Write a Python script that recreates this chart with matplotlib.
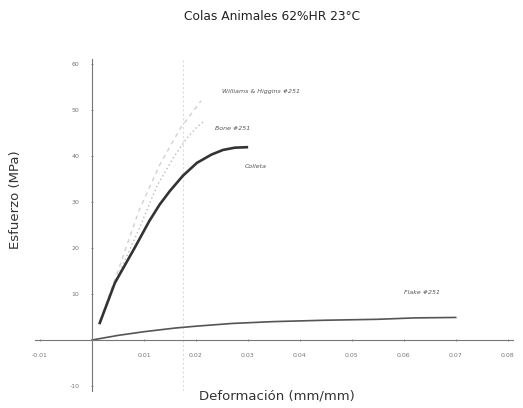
import numpy as np
import matplotlib.pyplot as plt

# Curvas esfuerzo-deformación
colleta_x = [0.0015, 0.0044, 0.0083, 0.0110, 0.0130, 0.0150, 0.0175, 0.0202, 0.0230, 0.0252, 0.0275, 0.0298]
colleta_y = [3.7, 12.4, 20.2, 25.8, 29.4, 32.4, 35.7, 38.5, 40.3, 41.3, 41.8, 41.9]

bone_x = [0.0015, 0.0050, 0.0094, 0.0125, 0.0156, 0.0180, 0.0202, 0.0215]
bone_y = [4.0, 14.0, 25.0, 33.5, 39.5, 43.5, 46.3, 47.5]

williams_x = [0.0015, 0.0050, 0.0090, 0.0130, 0.0170, 0.0210]
williams_y = [4.0, 15.0, 28.0, 38.0, 46.0, 52.0]

flake_x = [0.0, 0.005, 0.010, 0.016, 0.020, 0.027, 0.035, 0.045, 0.055, 0.062, 0.070]
flake_y = [0.0, 1.0, 1.8, 2.6, 3.0, 3.6, 4.0, 4.3, 4.5, 4.8, 4.9]

x_ticks = [-0.01, 0.01, 0.02, 0.03, 0.04, 0.05, 0.06, 0.07, 0.08]
x_labels = ["-0.01", "0.01", "0.02", "0.03", "0.04", "0.05", "0.06", "0.07", "0.08"]
y_ticks = [-10, 10, 20, 30, 40, 50, 60]
y_labels = ["-10", "10", "20", "30", "40", "50", "60"]

fig = plt.figure(figsize=(5.23, 4.08), dpi=100)
ax = fig.add_axes([0.0666, 0.0426, 0.914, 0.812])
ax.set_xlim(-0.011, 0.081)
ax.set_ylim(-11, 61)

# Línea vertical tenue del escaneo
ax.axvline(0.0175, color="#dddddd", lw=0.8, ls=(0, (2, 2)), zorder=0)

ax.plot(williams_x, williams_y, color="#d0d0d0", lw=1.0, ls=(0, (3, 3)))
ax.plot(bone_x, bone_y, color="#bbbbbb", lw=1.0, ls=(0, (1, 2)))
ax.plot(colleta_x, colleta_y, color="#333333", lw=1.9)
ax.plot(flake_x, flake_y, color="#555555", lw=1.2)

# Etiquetas de curvas
lbl = dict(fontsize=4.5, color="#555555", style="italic", va="center")
ax.text(0.0250, 53.9, "Williams & Higgins #251", **lbl)
ax.text(0.0237, 46.0, "Bone #251", **lbl)
ax.text(0.0294, 37.8, "Colleta", **lbl)
ax.text(0.0600, 10.4, "Flake #251", **lbl)

# Ejes cruzando en el origen
for s in ["top", "right"]:
    ax.spines[s].set_visible(False)
ax.spines["left"].set_position(("data", 0))
ax.spines["bottom"].set_position(("data", 0))
for s in ["left", "bottom"]:
    ax.spines[s].set_color("#777777")
    ax.spines[s].set_linewidth(0.8)

ax.set_xticks(x_ticks)
ax.set_xticklabels(x_labels)
ax.set_yticks(y_ticks)
ax.set_yticklabels(y_labels)
ax.tick_params(axis="both", labelsize=4.5, labelcolor="#777777", color="#777777",
               length=2, width=0.6, direction="inout", pad=8)

fig.text(0.52, 0.96, "Colas Animales 62%HR 23°C", ha="center", va="center",
         fontsize=8.8, color="#222222")
fig.text(0.53, 0.03, "Deformación (mm/mm)", ha="center", va="center",
         fontsize=9.5, color="#333333")
fig.text(0.03, 0.51, "Esfuerzo (MPa)", ha="center", va="center", rotation=90,
         fontsize=9.5, color="#333333")

plt.savefig("out.png", dpi=100)
